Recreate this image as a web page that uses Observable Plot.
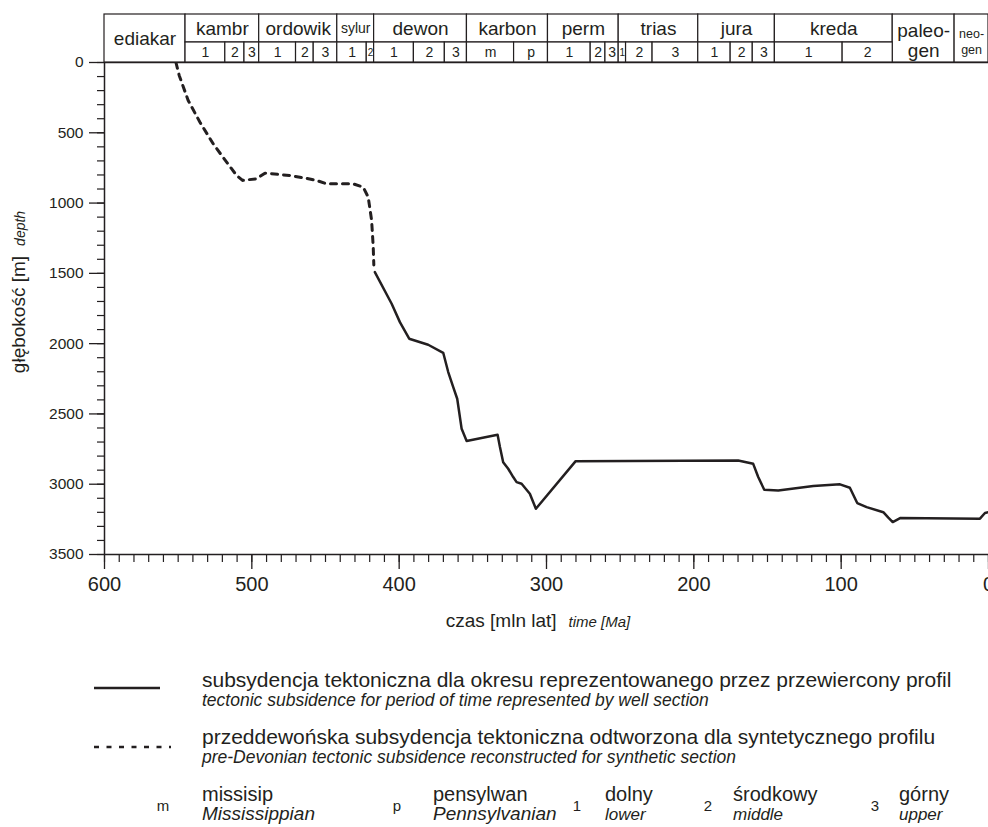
<!DOCTYPE html>
<html>
<head>
<meta charset="utf-8">
<script src="https://cdn.jsdelivr.net/npm/d3@7"></script>
<script src="https://cdn.jsdelivr.net/npm/@observablehq/plot@0.6"></script>
<style>
html, body { margin: 0; padding: 0; background: #fff; overflow: hidden; }
body { width: 988px; height: 827px; position: relative; font-family: "Liberation Sans", Arial, sans-serif; }
#chart, #header, #legend { position: absolute; left: 0; top: 0; }
#legend { top: 640px; }
svg { display: block; }
</style>
</head>
<body>
<div id="chart"></div>
<div id="header"></div>
<div id="legend"></div>
<script>
// ---------- data ----------
// geological periods (header, upper row)
const periodNames = ["ediakar", "kambr", "ordowik", "sylur", "dewon", "karbon", "perm", "trias", "jura", "kreda", "paleo-\ngen", "neo-\ngen"];
const periodStart = [600, 545, 495, 442, 417, 354, 299, 251, 197, 145, 65, 23];
const periodEnd   = [545, 495, 442, 417, 354, 299, 251, 197, 145, 65, 23, 0];
const periodHasSub = [false, true, true, true, true, true, true, true, true, true, false, false];

// subdivisions (header, lower row)
const epochLabels = ["1","2","3", "1","2","3", "1","2", "1","2","3", "m","p", "1","2","3", "1","2","3", "1","2","3", "1","2"];
const epochStart  = [545,518,505, 495,470,458, 442,422, 417,390,369, 354,322, 299,270,260, 251,246,228, 197,175,160, 145,99];
const epochEnd    = [518,505,495, 470,458,442, 422,417, 390,369,354, 322,299, 270,260,251, 246,228,197, 175,160,145, 99,65];

// pre-Devonian tectonic subsidence (dashed)
const dashedAge   = [551.5, 549.3, 543.2, 535.2, 526.2, 517.1, 510.3, 506.3, 496.8, 491.1, 474.1, 465.1, 456.0, 449.3, 431.2, 424.4, 421.0, 418.7, 417.6, 417.2];
const dashedDepth = [0, 92, 270, 425, 579, 709, 804, 839, 827, 787, 804, 820, 839, 863, 863, 887, 958, 1123, 1313, 1440];

// tectonic subsidence for well section (solid)
const solidAge   = [416.5, 405.1, 399.5, 393.2, 380.3, 370.1, 366.7, 363.3, 360.6, 357.6, 354.2, 333.2, 331.6, 329.4, 326.0, 322.6, 320.3, 316.9, 311.3, 307.2, 280.2, 169.9, 159.7, 156.3, 152.2, 142.7, 118.9, 100.8, 94.1, 89.1, 82.7, 71.4, 68.0, 65.0, 60.0, 5.8, 2.4, 0];
const solidDepth = [1491, 1716, 1847, 1965, 2008, 2065, 2202, 2309, 2392, 2606, 2693, 2648, 2736, 2843, 2890, 2949, 2985, 2997, 3068, 3175, 2836, 2831, 2855, 2949, 3040, 3044, 3013, 3001, 3025, 3134, 3163, 3199, 3238, 3269, 3241, 3245, 3205, 3199];

// ticks
const xMajor = [600, 500, 400, 300, 200, 100, 0];
const xMinor = d3.range(0, 601, 10);
const yMajor = [0, 500, 1000, 1500, 2000, 2500, 3000, 3500];
const yMinor = d3.range(0, 3501, 100);

// legend texts
const legendLines = [
  ["subsydencja tektoniczna dla okresu reprezentowanego przez przewiercony profil", "tectonic subsidence for period of time represented by well section"],
  ["przeddewońska subsydencja tektoniczna odtworzona dla syntetycznego profilu", "pre-Devonian tectonic subsidence reconstructed for synthetic section"]
];
const abbrKeys = ["m", "p", "1", "2", "3"];
const abbrPl = ["missisip", "pensylwan", "dolny", "środkowy", "górny"];
const abbrEn = ["Mississippian", "Pennsylvanian", "lower", "middle", "upper"];

// ---------- build tables ----------
const periods = periodNames.map((n, i) => ({name: n, start: periodStart[i], end: periodEnd[i], sub: periodHasSub[i]}));
const epochs = epochLabels.map((l, i) => ({label: l, start: epochStart[i], end: epochEnd[i]}));
const dashed = dashedAge.map((a, i) => ({age: a, depth: dashedDepth[i]}));
const solid = solidAge.map((a, i) => ({age: a, depth: solidDepth[i]}));

const ink = "#231f20";
const font = "Liberation Sans, Arial, sans-serif";
const intFmt = d => String(d);

// ---------- main chart ----------
const main = Plot.plot({
  width: 988,
  height: 640,
  marginLeft: 104,
  marginRight: 0,
  marginTop: 62,
  marginBottom: 86,
  style: {fontFamily: font, color: ink, background: "transparent", overflow: "visible"},
  x: {domain: [600, 0]},
  y: {domain: [0, 3500], reverse: true},
  marks: [
    Plot.axisX({ticks: xMinor, tickSize: 8, tickFormat: () => "", label: null, stroke: ink, strokeWidth: 1.2}),
    Plot.axisX({ticks: xMajor, tickSize: 15, tickPadding: 7, fontSize: 20, tickFormat: intFmt, label: null, stroke: ink, strokeWidth: 1.3}),
    Plot.axisY({ticks: yMinor, tickSize: 7, tickFormat: () => "", label: null, stroke: ink, strokeWidth: 1.2}),
    Plot.axisY({ticks: yMajor, tickSize: 15, tickPadding: 6, fontSize: 15.5, tickFormat: intFmt, label: null, stroke: ink, strokeWidth: 1.3}),
    Plot.ruleX([600], {stroke: ink, strokeWidth: 1.5}),
    Plot.ruleY([3500], {stroke: ink, strokeWidth: 1.5}),
    Plot.ruleY([0], {stroke: ink, strokeWidth: 1.5}),
    Plot.line(dashed, {x: "age", y: "depth", stroke: ink, strokeWidth: 3, strokeDasharray: "6,6"}),
    Plot.line(solid, {x: "age", y: "depth", stroke: ink, strokeWidth: 2.5})
  ]
});
document.getElementById("chart").appendChild(main);

// axis titles
const msvg = d3.select(main.tagName.toLowerCase() === "svg" ? main : main.querySelector("svg"));
const xt = msvg.append("text")
  .attr("x", 538).attr("y", 627)
  .attr("text-anchor", "middle")
  .attr("fill", ink).style("font-family", font);
xt.append("tspan").attr("font-size", 19).text("czas [mln lat]");
xt.append("tspan").attr("font-size", 15).attr("font-style", "italic").attr("dx", 12).text("time [Ma]");

const yt = msvg.append("text")
  .attr("transform", "translate(25,292) rotate(-90)")
  .attr("text-anchor", "middle")
  .attr("fill", ink).style("font-family", font);
yt.append("tspan").attr("font-size", 19).text("głębokość [m]");
yt.append("tspan").attr("font-size", 14).attr("font-style", "italic").attr("dx", 10).text("depth");

// ---------- header (time scale) ----------
const isPlain = d => !d.name.includes("\n") && d.name !== "sylur";
const header = Plot.plot({
  width: 988,
  height: 64,
  marginLeft: 104,
  marginRight: 0,
  marginTop: 14,
  marginBottom: 2,
  style: {fontFamily: font, color: ink, background: "transparent", overflow: "visible"},
  x: {domain: [600, 0], axis: null},
  y: {domain: [0, 48], reverse: true, axis: null},
  marks: [
    Plot.rect(periods, {x1: "start", x2: "end", y1: 0, y2: d => d.sub ? 28 : 48, fill: "white", stroke: ink, strokeWidth: 1.2}),
    Plot.rect(epochs, {x1: "start", x2: "end", y1: 28, y2: 48, fill: "white", stroke: ink, strokeWidth: 1.2}),
    Plot.text(periods.filter(isPlain), {x: d => (d.start + d.end) / 2, y: d => d.sub ? 14 : 24, text: "name", fontSize: 19, fill: ink}),
    Plot.text(periods.filter(d => d.name === "sylur"), {x: d => (d.start + d.end) / 2, y: 14, text: "name", fontSize: 14, fill: ink}),
    Plot.text(periods.filter(d => d.name.startsWith("paleo")), {x: d => (d.start + d.end) / 2, y: 26, text: "name", fontSize: 19, lineHeight: 1.05, fill: ink}),
    Plot.text(periods.filter(d => d.name.startsWith("neo")), {x: d => (d.start + d.end) / 2, y: 26, text: "name", fontSize: 12.5, lineHeight: 1.3, fill: ink}),
    Plot.text(epochs, {x: d => (d.start + d.end) / 2, y: 38, text: "label", fontSize: d => (d.start - d.end) < 6 ? 10 : 14, fill: ink})
  ]
});
document.getElementById("header").appendChild(header);

// ---------- legend ----------
const lg = d3.select("#legend").append("svg").attr("width", 988).attr("height", 187)
  .style("font-family", font);
const L = (y) => y - 640;
// solid sample
lg.append("line").attr("x1", 94).attr("x2", 160).attr("y1", L(688)).attr("y2", L(688))
  .attr("stroke", ink).attr("stroke-width", 2.5);
// dashed sample
lg.append("line").attr("x1", 94).attr("x2", 171).attr("y1", L(747)).attr("y2", L(747))
  .attr("stroke", ink).attr("stroke-width", 2.5).attr("stroke-dasharray", "5,7.5");
const rows = [[687, 706], [744, 763]];
legendLines.forEach((pair, i) => {
  lg.append("text").attr("x", 202).attr("y", L(rows[i][0])).attr("font-size", 21).attr("fill", ink).text(pair[0]);
  lg.append("text").attr("x", 202).attr("y", L(rows[i][1])).attr("font-size", 17.5).attr("font-style", "italic").attr("fill", ink).text(pair[1]);
});
const keyX = [163, 397, 577, 708, 875];
const textX = [202, 433, 605, 733, 899];
abbrKeys.forEach((k, i) => {
  lg.append("text").attr("x", keyX[i]).attr("y", L(811)).attr("text-anchor", "middle").attr("font-size", 15).attr("fill", ink).text(k);
  lg.append("text").attr("x", textX[i]).attr("y", L(801)).attr("font-size", 20).attr("fill", ink).text(abbrPl[i]);
  lg.append("text").attr("x", textX[i]).attr("y", L(820)).attr("font-size", i < 2 ? 19 : 17).attr("font-style", "italic").attr("fill", ink).text(abbrEn[i]);
});
</script>
</body>
</html>
